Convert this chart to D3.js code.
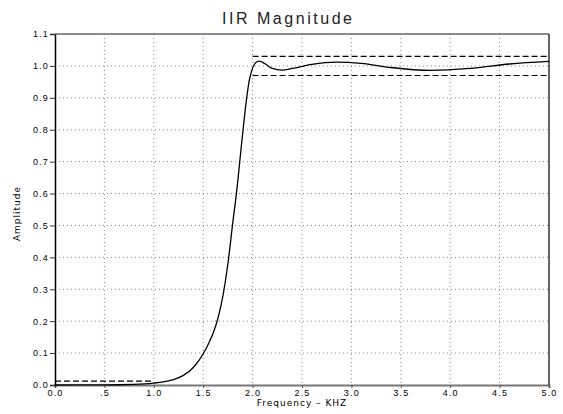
<!DOCTYPE html>
<html><head><meta charset="utf-8">
<script src="https://cdn.jsdelivr.net/npm/d3@7"></script>
<style>
body{margin:0;background:#fff;}
svg{display:block;font-family:"DejaVu Sans",sans-serif;}
</style></head>
<body><svg id="c" width="563" height="414"></svg>
<script>
// Data
const freq = [0, 0.5, 0.8, 1.0, 1.1, 1.2, 1.3, 1.4, 1.45, 1.5, 1.55, 1.6, 1.65, 1.7, 1.75, 1.8, 1.84, 1.87, 1.9, 1.94, 1.97, 2.0, 2.03, 2.07, 2.12, 2.2, 2.3, 2.4, 2.6, 2.85, 3.1, 3.4, 3.8, 4.2, 4.6, 5.0];
const amp  = [0, 0.0003, 0.002, 0.006, 0.010, 0.017, 0.030, 0.055, 0.074, 0.098, 0.127, 0.162, 0.21, 0.28, 0.38, 0.51, 0.61, 0.70, 0.79, 0.90, 0.96, 0.993, 1.010, 1.015, 1.008, 0.992, 0.987, 0.992, 1.005, 1.012, 1.008, 0.995, 0.986, 0.992, 1.006, 1.014];
const passbandUpper = [[2.0, 1.03], [5.0, 1.03]];
const passbandLower = [[2.0, 0.97], [5.0, 0.97]];
const stopband = [[0.0, 0.012], [1.0, 0.012]];
const xTicks = [0, 0.5, 1.0, 1.5, 2.0, 2.5, 3.0, 3.5, 4.0, 4.5, 5.0];
const xTickLabels = ["0.0", ".5", "1.0", "1.5", "2.0", "2.5", "3.0", "3.5", "4.0", "4.5", "5.0"];
const yTicks = [0, 0.1, 0.2, 0.3, 0.4, 0.5, 0.6, 0.7, 0.8, 0.9, 1.0, 1.1];
const yTickLabels = ["0.0", "0.1", "0.2", "0.3", "0.4", "0.5", "0.6", "0.7", "0.8", "0.9", "1.0", "1.1"];
const title = "IIR Magnitude";
const xLabel = "Frequency \u2013 KHZ";
const yLabel = "Amplitude";

const L = 55, R = 549, T = 34, B = 385;
const svg = d3.select("#c");
const x = d3.scaleLinear().domain([0, 5]).range([L, R]);
const y = d3.scaleLinear().domain([0, 1.1]).range([B, T]);

// grid
const g = svg.append("g");
g.selectAll(".vg").data(xTicks.slice(1, -1)).join("line")
  .attr("x1", d => x(d)).attr("x2", d => x(d)).attr("y1", T).attr("y2", B)
  .attr("stroke", "#888").attr("stroke-width", 1).attr("stroke-dasharray", "1,3");
g.selectAll(".hg").data(yTicks.slice(1, -1)).join("line")
  .attr("x1", L).attr("x2", R).attr("y1", d => y(d)).attr("y2", d => y(d))
  .attr("stroke", "#888").attr("stroke-width", 1).attr("stroke-dasharray", "1,3");

// axes
const xAxis = d3.axisBottom(x).tickValues(xTicks).tickFormat((d, i) => xTickLabels[i]).tickSize(3).tickPadding(2);
const xa = svg.append("g").attr("transform", `translate(0,${B})`).call(xAxis);
xa.select(".domain").attr("stroke", "#777").attr("stroke-width", 2);
xa.selectAll("text").attr("font-size", 9).attr("letter-spacing", 1.2).attr("fill", "#000");
xa.selectAll("line").attr("stroke", "#555");

const yAxis = d3.axisLeft(y).tickValues(yTicks).tickFormat((d, i) => yTickLabels[i]).tickSize(5).tickPadding(1);
const ya = svg.append("g").attr("transform", `translate(${L},0)`).call(yAxis);
ya.select(".domain").attr("stroke", "#000").attr("stroke-width", 1.5);
ya.selectAll("text").attr("font-size", 9).attr("letter-spacing", 1.2).attr("fill", "#000");
ya.selectAll("line").attr("stroke", "#333");

// top and right borders
svg.append("line").attr("x1", L).attr("x2", R).attr("y1", T).attr("y2", T).attr("stroke", "#666").attr("stroke-width", 1.5);
svg.append("line").attr("x1", R).attr("x2", R).attr("y1", T).attr("y2", B).attr("stroke", "#333").attr("stroke-width", 1.5);

// dashed specs
const ln = d3.line().x(d => x(d[0])).y(d => y(d[1]));
[passbandUpper, passbandLower, stopband].forEach(s => {
  svg.append("path").attr("d", ln(s)).attr("fill", "none").attr("stroke", "#000")
    .attr("stroke-width", 1.2).attr("stroke-dasharray", "6,3");
});

// curve
const pts = freq.map((f, i) => [f, amp[i]]);
svg.append("path").attr("d", d3.line().x(d => x(d[0])).y(d => y(d[1])).curve(d3.curveMonotoneX)(pts))
  .attr("fill", "none").attr("stroke", "#000").attr("stroke-width", 1.3);

// labels
svg.append("text").attr("x", 222).attr("y", 24).attr("text-anchor", "start")
  .attr("font-size", 16).attr("textLength", 130).attr("lengthAdjust", "spacing")
  .attr("font-family", "Liberation Sans, sans-serif").attr("fill", "#222").text(title);
svg.append("text").attr("x", (L + R) / 2).attr("y", 406).attr("text-anchor", "middle")
  .attr("font-size", 9).attr("letter-spacing", 1).text(xLabel);
svg.append("text").attr("transform", `translate(20,${(T + B) / 2 + 4}) rotate(-90)`).attr("text-anchor", "middle")
  .attr("font-size", 9).attr("letter-spacing", 1).text(yLabel);
</script></body></html>
